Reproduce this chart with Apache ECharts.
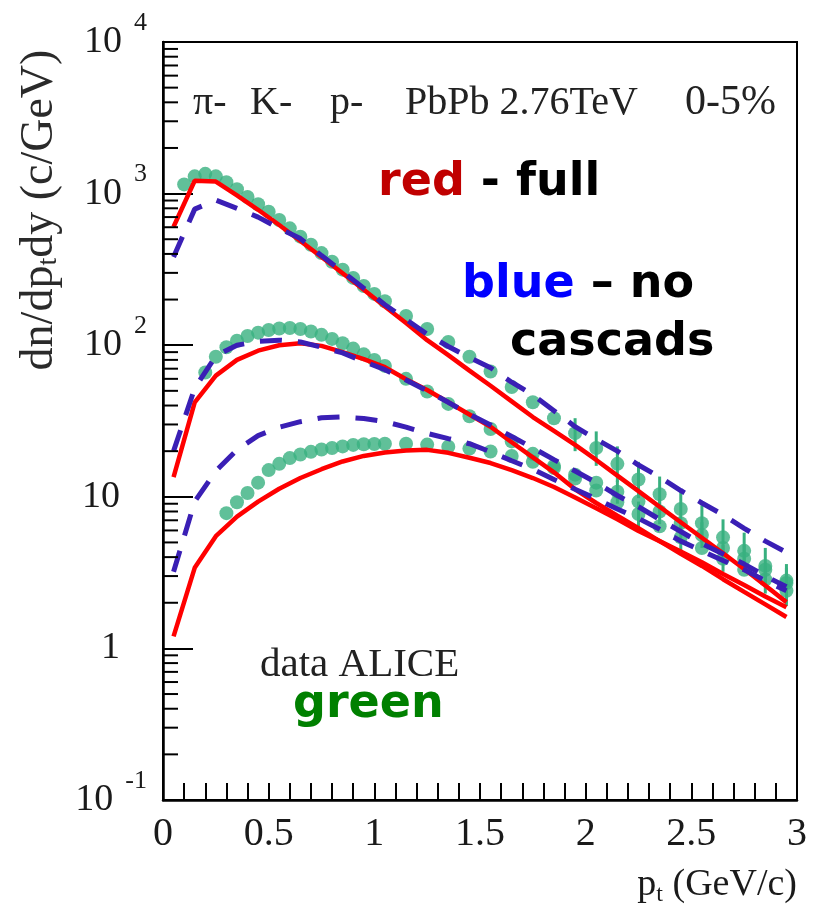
<!DOCTYPE html>
<html>
<head>
<meta charset="utf-8">
<script src="https://cdn.jsdelivr.net/npm/echarts@6/dist/echarts.min.js"></script>
<style>
  html, body { margin: 0; padding: 0; background: #fff; }
  #chart { width: 822px; height: 917px; }
</style>
</head>
<body>
<div id="chart"></div>
<script>
// model curves, all on the same pt grid (GeV/c)
const ptModel = [0.05, 0.15, 0.25, 0.35, 0.45, 0.55, 0.65, 0.75, 0.85, 0.95,
  1.05, 1.15, 1.25, 1.35, 1.45, 1.55, 1.65, 1.75, 1.85, 1.95,
  2.05, 2.15, 2.25, 2.35, 2.45, 2.55, 2.65, 2.75, 2.85, 2.95];
const pionFull = [605, 1216, 1200, 973, 782, 621, 487, 382, 298, 232,
  180, 140, 108, 86, 68, 54, 42.6, 33.6, 27.2, 22,
  17.5, 13.8, 10.9, 8.6, 6.8, 5.37, 4.24, 3.34, 2.6, 2.02];
const pionNoCasc = [382, 790, 905, 800, 700, 590, 505, 390, 305, 238,
  185, 148, 118, 98, 83, 71, 57, 47, 37, 29,
  24, 20, 16.2, 13.5, 11, 9.1, 7.6, 6.2, 5.1, 4.3];
const kaonFull = [13.5, 42, 63, 80, 92, 100, 103, 99, 90, 81,
  71.6, 59.6, 50.6, 42, 34.9, 29, 22.9, 18.2, 14.5, 11.2,
  9.1, 7.5, 6.2, 5.1, 4.2, 3.5, 2.86, 2.36, 1.95, 1.61];
const kaonNoCasc = [20, 52, 85, 100, 106, 108, 105, 97, 89, 78,
  69, 59, 50, 42, 35, 29.8, 25, 21, 17.6, 14.8,
  12.4, 10.2, 8.6, 7.1, 5.9, 4.9, 4.2, 3.6, 3.0, 2.55];
const protonFull = [1.2, 3.4, 5.5, 7.4, 9.3, 11.3, 13.3, 15.2, 17.1, 18.6,
  19.6, 20.2, 20.4, 19.5, 18.1, 16.7, 15.0, 13.3, 11.6, 9.9,
  8.4, 7.1, 5.95, 5.1, 4.35, 3.7, 3.1, 2.62, 2.2, 1.87];
const protonNoCasc = [3.2, 9.3, 14.8, 20.4, 25.3, 28.8, 31.3, 33.2, 33.6, 32.8,
  31.3, 28.8, 26.2, 24.2, 22.4, 19.8, 17.3, 15.2, 13.0, 11.2,
  9.7, 8.3, 7.2, 6.1, 5.1, 4.4, 3.8, 3.3, 2.8, 2.4];

// ALICE data points
const ptPion = [0.10, 0.15, 0.20, 0.25, 0.30, 0.35, 0.40, 0.45, 0.50, 0.55,
  0.60, 0.65, 0.70, 0.75, 0.80, 0.85, 0.90, 0.95, 1.00,
  1.05, 1.15, 1.25, 1.35, 1.45, 1.55, 1.65, 1.75, 1.85, 1.95,
  2.05, 2.15, 2.25, 2.35, 2.45, 2.55, 2.65, 2.75, 2.85, 2.95];
const pionData = [1150, 1300, 1350, 1300, 1190, 1070, 950, 850, 760, 670,
  590, 520, 460, 405, 355, 315, 278, 246, 218,
  195, 156, 128, 105, 84, 67, 53, 42, 33, 26.3,
  21, 16.5, 13, 10.4, 8.3, 6.7, 5.4, 4.4, 3.5, 2.7];
const ptKaon = [0.20, 0.25, 0.30, 0.35, 0.40, 0.45, 0.50, 0.55,
  0.60, 0.65, 0.70, 0.75, 0.80, 0.85, 0.90, 0.95, 1.00,
  1.05, 1.15, 1.25, 1.35, 1.45, 1.55, 1.65, 1.75, 1.85, 1.95,
  2.05, 2.15, 2.25, 2.35, 2.45, 2.55, 2.65, 2.75, 2.85, 2.95];
const kaonData = [66, 84, 97, 107, 115, 121, 126, 129,
  130, 128, 123, 117, 110, 103, 95, 87, 80,
  73, 60, 49.5, 41, 34, 28, 23.2, 19.2, 16, 13.2,
  11, 9.2, 7.7, 6.4, 5.4, 4.6, 3.9, 3.3, 2.85, 2.4];
const ptProton = [0.30, 0.35, 0.40, 0.45, 0.50, 0.55,
  0.60, 0.65, 0.70, 0.75, 0.80, 0.85, 0.90, 0.95, 1.00,
  1.05, 1.15, 1.25, 1.35, 1.45, 1.55, 1.65, 1.75, 1.85, 1.95,
  2.05, 2.15, 2.25, 2.35, 2.45, 2.55, 2.65, 2.75, 2.85, 2.95];
const protonData = [7.8, 9.2, 10.6, 12.4, 15.0, 16.5,
  18.0, 19.0, 19.8, 20.5, 21.0, 21.5, 22.0, 22.2, 22.3,
  22.4, 22.4, 22.1, 21.4, 20.8, 19.9, 18.6, 17.0, 15.5, 14.0,
  12.4, 10.8, 9.3, 8.0, 6.7, 5.6, 4.6, 3.9, 3.3, 2.8];

// error bars on the high-pt points: [pt, low, high]
const pionErr = [[1.95, 20, 33], [2.05, 16, 27], [2.15, 12.5, 21.5], [2.25, 9.8, 17], [2.35, 7.8, 13.6],
  [2.45, 6.2, 10.9], [2.55, 5.0, 8.8], [2.65, 4.0, 7.1], [2.75, 3.2, 5.8], [2.85, 2.6, 4.6], [2.95, 2.0, 3.6]];
const kaonErr = [[2.25, 6.3, 9.3], [2.45, 4.4, 6.6], [2.65, 3.2, 4.8], [2.85, 2.3, 3.5], [2.95, 1.9, 3.0]];
const protonErr = [[2.15, 9.0, 12.8], [2.35, 6.6, 9.7], [2.55, 4.6, 6.8], [2.75, 3.2, 4.8], [2.95, 2.3, 3.4]];

// y axis tick labels (log axis, exponent -> text)
const yExponents = [-1, 0, 1, 2, 3, 4];
const yLabels = ['{b|10}{s|-1}', '{b|1}{e| }', '{b|10}{e| }', '{b|10}{s|2}', '{b|10}{s|3}', '{b|10}{s|4}'];
// minor ticks of the log axis: 2..9 in every decade
const minorMult = [2, 3, 4, 5, 6, 7, 8, 9];
const decades = [0.1, 1, 10, 100, 1000];

const RED = '#ff0000';
const BLUE = '#3a1fb5';
const GREEN = '#38b07f';
const SERIF = '"Liberation Serif", "DejaVu Serif", serif';
const SANS = '"DejaVu Sans", sans-serif';

const zip = (xs, ys) => xs.map((x, i) => [x, ys[i]]);
const minorTicks = [];
decades.forEach(d => minorMult.forEach(m => minorTicks.push([0, +(d * m).toPrecision(3)])));

const chart = echarts.init(document.getElementById('chart'), null, { renderer: 'canvas' });

function modelLine(name, data, color, dashed) {
  return {
    name: name,
    type: 'line',
    data: data,
    symbol: 'none',
    smooth: false,
    z: dashed ? 4 : 3,
    lineStyle: dashed
      ? { color: color, width: 5, type: [22, 16] }
      : { color: color, width: 4.5 }
  };
}

function dataPoints(name, data) {
  return {
    name: name,
    type: 'scatter',
    data: data,
    symbol: 'circle',
    symbolSize: 14,
    itemStyle: { color: GREEN },
    z: 2
  };
}

function errorBars(name, data) {
  return {
    name: name,
    type: 'custom',
    data: data,
    z: 2,
    silent: true,
    renderItem: (params, api) => {
      const lo = api.coord([api.value(0), api.value(1)]);
      const hi = api.coord([api.value(0), api.value(2)]);
      return {
        type: 'line',
        shape: { x1: lo[0], y1: lo[1], x2: hi[0], y2: hi[1] },
        style: { stroke: GREEN, lineWidth: 3 }
      };
    }
  };
}

const option = {
  animation: false,
  backgroundColor: '#fff',
  grid: {
    left: 163, right: 25, top: 42, bottom: 117,
    show: true, borderColor: '#000', borderWidth: 2
  },
  xAxis: {
    type: 'value',
    min: 0, max: 3, interval: 0.5,
    axisLine: { show: true, lineStyle: { color: '#000', width: 2.5 } },
    axisTick: { inside: true, length: 17, lineStyle: { color: '#000', width: 2 } },
    minorTick: { show: true, splitNumber: 5, length: 17, lineStyle: { color: '#000', width: 2 } },
    splitLine: { show: false },
    axisLabel: {
      margin: 14,
      color: '#1a1a1a',
      fontFamily: SERIF,
      fontSize: 40,
      formatter: v => String(+v.toFixed(1))
    }
  },
  yAxis: {
    type: 'log',
    logBase: 10,
    min: 0.1, max: 10000,
    axisLine: { show: true, lineStyle: { color: '#000', width: 2.5 } },
    axisTick: { inside: true, length: 30, lineStyle: { color: '#000', width: 2 } },
    splitLine: { show: false },
    axisLabel: {
      margin: 16,
      color: '#1a1a1a',
      formatter: v => {
        const e = Math.round(Math.log10(v));
        const i = yExponents.indexOf(e);
        return i >= 0 ? yLabels[i] : '';
      },
      rich: {
        b: { fontFamily: SERIF, fontSize: 38, color: '#1a1a1a' },
        s: { fontFamily: SERIF, fontSize: 26, color: '#1a1a1a', padding: [0, 0, 38, 12] },
        e: { fontFamily: SERIF, fontSize: 26, width: 27 }
      }
    }
  },
  series: [
    errorBars('pi errors', pionErr),
    errorBars('K errors', kaonErr),
    errorBars('p errors', protonErr),
    dataPoints('pi data', zip(ptPion, pionData)),
    dataPoints('K data', zip(ptKaon, kaonData)),
    dataPoints('p data', zip(ptProton, protonData)),
    modelLine('pi full', zip(ptModel, pionFull), RED, false),
    modelLine('K full', zip(ptModel, kaonFull), RED, false),
    modelLine('p full', zip(ptModel, protonFull), RED, false),
    modelLine('pi no cascades', zip(ptModel, pionNoCasc), BLUE, true),
    modelLine('K no cascades', zip(ptModel, kaonNoCasc), BLUE, true),
    modelLine('p no cascades', zip(ptModel, protonNoCasc), BLUE, true),
    {
      name: 'minor ticks',
      type: 'custom',
      data: minorTicks,
      clip: false,
      silent: true,
      z: 10,
      renderItem: (params, api) => {
        const p = api.coord([0, api.value(1)]);
        return {
          type: 'line',
          shape: { x1: p[0], y1: p[1], x2: p[0] + 15, y2: p[1] },
          style: { stroke: '#000', lineWidth: 2 }
        };
      }
    }
  ],
  graphic: [
    {
      type: 'text', x: 40, y: 210, rotation: Math.PI / 2,
      style: {
        text: '{a|dn/dp}{s|t}{a|dy (c/GeV)}',
        align: 'center', verticalAlign: 'middle',
        rich: {
          a: { fontFamily: SERIF, fontSize: 46, fill: '#2a2a2a' },
          s: { fontFamily: SERIF, fontSize: 28, fill: '#2a2a2a', padding: [18, 0, 0, 0] }
        }
      }
    },
    {
      type: 'text', x: 797, y: 885,
      style: {
        text: '{a|p}{s|t}{a| (GeV/c)}',
        align: 'right', verticalAlign: 'middle',
        rich: {
          a: { fontFamily: SERIF, fontSize: 38, fill: '#1a1a1a' },
          s: { fontFamily: SERIF, fontSize: 24, fill: '#1a1a1a', padding: [20, 0, 0, 0] }
        }
      }
    },
    { type: 'text', x: 193, y: 103, style: { text: 'π-', font: '40px ' + SERIF, fill: '#222', verticalAlign: 'middle' } },
    { type: 'text', x: 250, y: 103, style: { text: 'K-', font: '40px ' + SERIF, fill: '#222', verticalAlign: 'middle' } },
    { type: 'text', x: 330, y: 103, style: { text: 'p-', font: '40px ' + SERIF, fill: '#222', verticalAlign: 'middle' } },
    { type: 'text', x: 405, y: 103, style: { text: 'PbPb 2.76TeV', font: '40px ' + SERIF, fill: '#222', verticalAlign: 'middle' } },
    { type: 'text', x: 685, y: 103, style: { text: '0-5%', font: '42px ' + SERIF, fill: '#222', verticalAlign: 'middle' } },
    {
      type: 'text', x: 378, y: 183,
      style: {
        text: '{r|red}{k| - full}', verticalAlign: 'middle',
        rich: {
          r: { fontFamily: SANS, fontWeight: 'bold', fontSize: 46, fill: '#c00000' },
          k: { fontFamily: SANS, fontWeight: 'bold', fontSize: 46, fill: '#000' }
        }
      }
    },
    {
      type: 'text', x: 462, y: 285,
      style: {
        text: '{b|blue}{k| – no}', verticalAlign: 'middle',
        rich: {
          b: { fontFamily: SANS, fontWeight: 'bold', fontSize: 46, fill: '#0000ff' },
          k: { fontFamily: SANS, fontWeight: 'bold', fontSize: 46, fill: '#000' }
        }
      }
    },
    { type: 'text', x: 510, y: 343, style: { text: 'cascads', font: 'bold 46px ' + SANS, fill: '#000', verticalAlign: 'middle' } },
    { type: 'text', x: 260, y: 665, style: { text: 'data ALICE', font: '41px ' + SERIF, fill: '#222', verticalAlign: 'middle' } },
    { type: 'text', x: 293, y: 705, style: { text: 'green', font: 'bold 46px ' + SANS, fill: '#008000', verticalAlign: 'middle' } }
  ]
};

chart.setOption(option);
</script>
</body>
</html>
